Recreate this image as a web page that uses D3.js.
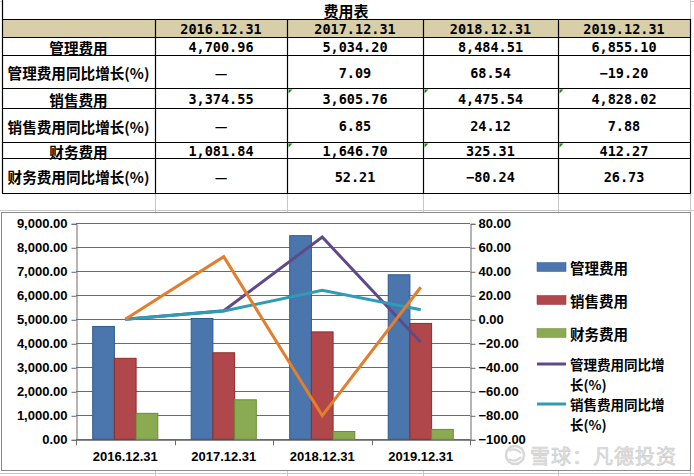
<!DOCTYPE html>
<html><head><meta charset="utf-8">
<script src="https://cdn.jsdelivr.net/npm/d3@7"></script>
<style>
html,body{margin:0;padding:0;background:#fff;}
svg{display:block;}
</style></head>
<body>
<svg id="c" width="694" height="476"></svg>
<script>
// ---------- data ----------
const title = "费用表";
const categories = ["2016.12.31","2017.12.31","2018.12.31","2019.12.31"];
const mgmt     = [4700.96, 5034.20, 8484.51, 6855.10];
const mgmtYoY  = [null, 7.09, 68.54, -19.20];
const sales    = [3374.55, 3605.76, 4475.54, 4828.02];
const salesYoY = [null, 6.85, 24.12, 7.88];
const fin      = [1081.84, 1646.70, 325.31, 412.27];
const finYoY   = [null, 52.21, -80.24, 26.73];
const rowLabels = ["管理费用","管理费用同比增长(%)","销售费用","销售费用同比增长(%)","财务费用","财务费用同比增长(%)"];
const barNames  = ["管理费用","销售费用","财务费用"];
const lineNames = ["管理费用同比增长(%)","销售费用同比增长(%)","财务费用同比增长(%)"];
const leftTicks  = [0,1000,2000,3000,4000,5000,6000,7000,8000,9000];
const rightTicks = [-100,-80,-60,-40,-20,0,20,40,60,80];
const watermark = "雪球：凡德投资";

const svg = d3.select("#c");
const fmtMoney = d3.format(",.2f");

// ---------- spreadsheet gridlines ----------
const colX = [2,155,287,423,558,690];
const rowY = [0,19,37,55,88,108,142,158,193];
const grid = svg.append("g").attr("stroke","#c8c8c8").attr("stroke-width",1);
[1.5,210.5,473.5].forEach(y=>grid.append("line").attr("x1",0).attr("x2",694).attr("y1",y).attr("y2",y));
colX.slice(1).forEach(x=>{
  grid.append("line").attr("x1",x+0.5).attr("x2",x+0.5).attr("y1",0).attr("y2",19);
  grid.append("line").attr("x1",x+0.5).attr("x2",x+0.5).attr("y1",193).attr("y2",213);
  grid.append("line").attr("x1",x+0.5).attr("x2",x+0.5).attr("y1",470).attr("y2",476);
});

// ---------- table ----------
const tbl = svg.append("g");
tbl.append("rect").attr("x",colX[0]).attr("y",rowY[1]).attr("width",colX[5]-colX[0]).attr("height",rowY[2]-rowY[1]).attr("fill","#d8cfa9");
tbl.append("rect").attr("x",colX[0]).attr("y",rowY[0]).attr("width",colX[5]-colX[0]).attr("height",rowY[1]-rowY[0]).attr("fill","#fff");
const bl = tbl.append("g").attr("stroke","#000").attr("stroke-width",1.2);
rowY.slice(1).forEach(y=>bl.append("line").attr("x1",colX[0]).attr("x2",colX[5]+0.5).attr("y1",y+0.5).attr("y2",y+0.5));
bl.append("line").attr("x1",colX[0]+0.5).attr("x2",colX[0]+0.5).attr("y1",0).attr("y2",rowY[8]+0.5);
colX.slice(1).forEach(x=>bl.append("line").attr("x1",x+0.5).attr("x2",x+0.5).attr("y1",rowY[1]).attr("y2",rowY[8]+0.5));

const cjk = "'Noto Sans CJK SC','Noto Sans CJK JP',sans-serif";
const mono = "'DejaVu Sans Mono',monospace";
tbl.append("text").attr("x",(colX[0]+colX[5])/2).attr("y",(rowY[0]+rowY[1])/2+1)
  .attr("text-anchor","middle").attr("dominant-baseline","central")
  .attr("font-family",cjk).attr("font-weight",700).attr("font-size",15).text(title);
categories.forEach((c,i)=>{
  tbl.append("text").attr("x",(colX[i+1]+colX[i+2])/2).attr("y",(rowY[1]+rowY[2])/2+1)
    .attr("text-anchor","middle").attr("dominant-baseline","central")
    .attr("font-family",mono).attr("font-weight",700).attr("font-size",13.5).text(c);
});
const rows = [mgmt,mgmtYoY,sales,salesYoY,fin,finYoY];
rows.forEach((r,ri)=>{
  const cy = (rowY[ri+2]+rowY[ri+3])/2+1;
  tbl.append("text").attr("x",(colX[0]+colX[1])/2).attr("y",cy)
    .attr("text-anchor","middle").attr("dominant-baseline","central")
    .attr("font-family",cjk).attr("font-weight",700).attr("font-size",14.6).text(rowLabels[ri]);
  r.forEach((v,ci)=>{
    const t = tbl.append("text").attr("x",(colX[ci+1]+colX[ci+2])/2).attr("y",cy)
      .attr("text-anchor","middle").attr("dominant-baseline","central").attr("font-weight",700);
    if(v===null){ t.attr("font-family",cjk).attr("font-size",14).text("—"); }
    else { t.attr("font-family",mono).attr("font-size",13.5).text(ri%2===0?fmtMoney(v):d3.format(".2f")(v).replace("-","−")); }
  });
});
[[2,4],[3,4],[4,4],[2,6],[3,6],[4,6]].forEach(([c,r])=>{
  const x=colX[c]+1.5, y=rowY[r]+1.5;
  tbl.append("path").attr("d",`M${x},${y}h4l-4,4z`).attr("fill","#1a8a1a");
});

// ---------- chart ----------
const ch = svg.append("g");
ch.append("rect").attr("x",1.5).attr("y",212.5).attr("width",689).attr("height",258)
  .attr("fill","#fff").attr("stroke","#8a8a8a").attr("stroke-width",1);

const plotL=76, plotR=470, plotT=223.3, plotB=439.3;
const x0 = d3.scaleBand().domain(categories).range([plotL,plotR]).padding(0);
const bw = x0.bandwidth();
const x1 = d3.scaleBand().domain(barNames).range([0,bw]).paddingInner(0).paddingOuter(0.77);
const yL = d3.scaleLinear().domain([0,9000]).range([plotB,plotT]);
const yR = d3.scaleLinear().domain([-100,80]).range([plotB,plotT]);

ch.append("g").selectAll("line").data(leftTicks).join("line")
  .attr("x1",plotL).attr("x2",plotR).attr("y1",d=>Math.round(yL(d))+0.5).attr("y2",d=>Math.round(yL(d))+0.5)
  .attr("stroke","#6b6b6b").attr("stroke-width",1);

const labelFont = "'Liberation Sans',Arial,sans-serif";
const gL = ch.append("g").attr("transform",`translate(${plotL+0.5},0.5)`)
  .call(d3.axisLeft(yL).tickValues(leftTicks).tickSize(5).tickPadding(4).tickFormat(fmtMoney));
gL.select(".domain").attr("stroke","#6b6b6b");
gL.selectAll(".tick line").attr("stroke","#6b6b6b");
gL.selectAll("text").attr("font-family",labelFont).attr("font-weight",700).attr("font-size",13).attr("fill","#000");
const gR = ch.append("g").attr("transform",`translate(${plotR+0.5},0.5)`)
  .call(d3.axisRight(yR).tickValues(rightTicks).tickSize(5).tickPadding(3).tickFormat(d3.format(".2f")));
gR.select(".domain").attr("stroke","#6b6b6b");
gR.selectAll(".tick line").attr("stroke","#6b6b6b");
gR.selectAll("text").attr("font-family",labelFont).attr("font-weight",700).attr("font-size",13).attr("fill","#000");
const gX = ch.append("g").attr("transform",`translate(0,${plotB+0.5})`)
  .call(d3.axisBottom(x0).tickSize(0).tickPadding(12));
gX.select(".domain").attr("stroke","#6b6b6b");
gX.selectAll("text").attr("font-family",labelFont).attr("font-weight",700).attr("font-size",13).attr("fill","#000");
ch.append("g").selectAll("line").data(categories.concat([null])).join("line")
  .attr("x1",(d,i)=>Math.round(plotL+i*bw)+0.5).attr("x2",(d,i)=>Math.round(plotL+i*bw)+0.5)
  .attr("y1",plotB).attr("y2",plotB+6).attr("stroke","#6b6b6b");

const barFill = ["#4a76ad","#b0474a","#8bab52"];
const barStroke = ["#2f5a8e","#8e2e2c","#6d8a3a"];
const barData = [mgmt,sales,fin];
barData.forEach((s,si)=>{
  ch.append("g").selectAll("rect").data(s).join("rect")
    .attr("x",(d,i)=>x0(categories[i])+x1(barNames[si]))
    .attr("width",x1.bandwidth())
    .attr("y",d=>yL(d)).attr("height",d=>yL(0)-yL(d))
    .attr("fill",barFill[si]).attr("stroke",barStroke[si]).attr("stroke-width",1);
});

const lineColors = ["#5e4a8a","#2f9cb5","#e57e2c"];
const lineData = [mgmtYoY,salesYoY,finYoY];
const lineGen = d3.line().x((d,i)=>x0(categories[i])+bw/2).y(d=>yR(d===null?0:d));
lineData.forEach((s,si)=>{
  ch.append("path").datum(s).attr("d",lineGen).attr("fill","none")
    .attr("stroke",lineColors[si]).attr("stroke-width",3).attr("stroke-linejoin","miter");
});

// legend
const lg = ch.append("g");
const legX = 537, legTX = 570;
const legY = [267,300,333];
barNames.forEach((n,i)=>{
  lg.append("rect").attr("x",legX).attr("y",legY[i]-4.5).attr("width",29).attr("height",9)
    .attr("fill",barFill[i]).attr("stroke",barStroke[i]).attr("stroke-width",0.5);
  lg.append("text").attr("x",legTX).attr("y",legY[i]).attr("dominant-baseline","central")
    .attr("font-family",cjk).attr("font-weight",700).attr("font-size",14.5).text(n);
});
const legLY = [364,404];
[0,1].forEach(i=>{
  lg.append("line").attr("x1",legX).attr("x2",legX+29).attr("y1",legLY[i]).attr("y2",legLY[i])
    .attr("stroke",lineColors[i]).attr("stroke-width",3);
  const name = lineNames[i];
  lg.append("text").attr("x",legTX).attr("y",legLY[i]).attr("dominant-baseline","central")
    .attr("font-family",cjk).attr("font-weight",700).attr("font-size",13.5).text(name.slice(0,7));
  lg.append("text").attr("x",legTX).attr("y",legLY[i]+20).attr("dominant-baseline","central")
    .attr("font-family",cjk).attr("font-weight",700).attr("font-size",13.5).text(name.slice(7));
});

// watermark
const wm = svg.append("g").attr("opacity",0.85);
wm.append("circle").attr("cx",515).attr("cy",455).attr("r",9).attr("fill","none").attr("stroke","#d2d2d2").attr("stroke-width",2.5);
wm.append("path").attr("d","M509,451 q6,-4 12,2 M509,459 q6,4 12,-2").attr("fill","none").attr("stroke","#d2d2d2").attr("stroke-width",2);
wm.append("text").attr("x",530).attr("y",455).attr("dominant-baseline","central")
  .attr("font-family",cjk).attr("font-size",20).attr("fill","#dcdcdc").attr("stroke","#c4c4c4").attr("stroke-width",0.6)
  .attr("letter-spacing",1).text(watermark);
</script>
</body></html>
